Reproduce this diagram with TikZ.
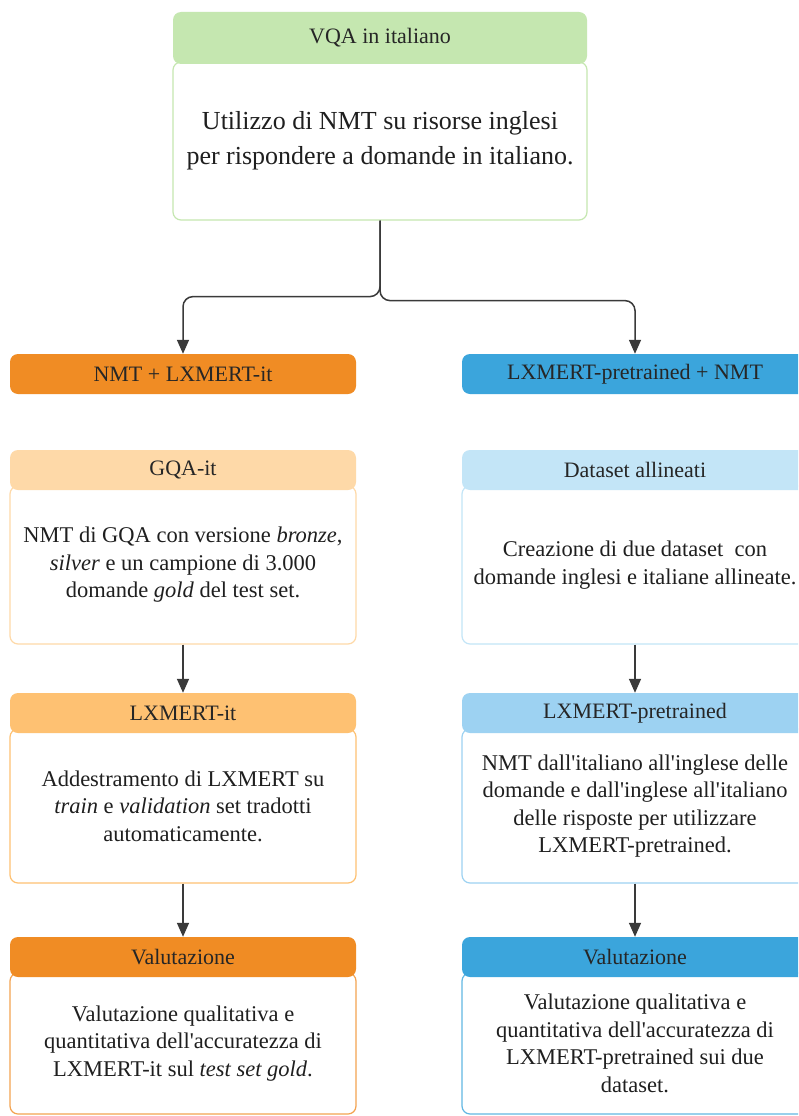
\documentclass[tikz,border=0pt]{standalone}
\usepackage{fontspec}
\setmainfont{Liberation Serif}
\newfontfamily\lsf{Liberation Serif}
\usetikzlibrary{arrows.meta}
\definecolor{grn}{HTML}{C5E7B0}
\definecolor{orD}{HTML}{F08C24}
\definecolor{orM}{HTML}{FEC172}
\definecolor{orL}{HTML}{FED9A8}
\definecolor{blD}{HTML}{3BA5DC}
\definecolor{blM}{HTML}{9DD2F2}
\definecolor{blL}{HTML}{C3E5F7}
\definecolor{arrowgray}{HTML}{3A3A3A}
\begin{document}
\begin{tikzpicture}[x=1pt,y=-1pt,
  hdr/.style={rounded corners=8pt, minimum height=40pt, minimum width=346pt, inner sep=0pt, font=\lsf\fontsize{22}{26}\selectfont, text=black!85},
  bodybox/.style={draw, fill=white, rounded corners=8pt, line width=1.2pt, inner sep=0pt, minimum width=346pt, align=center, text=black!88, font=\lsf\fontsize{22.5}{27.5}\selectfont},
  conn/.style={draw=arrowgray, line width=1.5pt, -{Triangle[width=12pt,length=14pt]}}]
\clip (0,0) rectangle (798,1116);
\fill[white] (0,0) rectangle (798,1116);
% top
\node[bodybox, draw=grn, minimum width=414pt, minimum height=158pt, font=\lsf\fontsize{26}{35}\selectfont] (topbody) at (380,141) {Utilizzo di NMT su risorse inglesi\\per rispondere a domande in italiano.};
\node[hdr, fill=grn, minimum width=414pt, minimum height=52pt] (tophead) at (380,38) {VQA in italiano};
% left column
\node[hdr, fill=orD] (lefttop) at (183,374) {NMT + LXMERT-it};
\node[bodybox, draw=orL, minimum height=158pt] (gqabody) at (183,565) {NMT di GQA con versione \textit{bronze},\\\textit{silver} e un campione di 3.000\\domande \textit{gold} del test set.};
\node[hdr, fill=orL] (gqahead) at (183,470) {GQA-it};
\node[bodybox, draw=orM, minimum height=154pt] (lxbody) at (183,806) {Addestramento di LXMERT su\\\textit{train} e \textit{validation} set tradotti\\automaticamente.};
\node[hdr, fill=orM] (lxhead) at (183,713) {LXMERT-it};
\node[bodybox, draw=orD!80, minimum height=141pt] (lvbody) at (183,1043.5) {Valutazione qualitativa e\\quantitativa dell'accuratezza di\\LXMERT-it sul \textit{test set gold}.};
\node[hdr, fill=orD] (lvhead) at (183,957) {Valutazione};
% right column
\node[hdr, fill=blD] (righttop) at (635,374) {LXMERT-pretrained + NMT};
\node[bodybox, draw=blL, minimum height=158pt] (dsbody) at (635,565) {Creazione di due dataset\ \ con\\domande inglesi e italiane allineate.};
\node[hdr, fill=blL] (dshead) at (635,470) {Dataset allineati};
\node[bodybox, draw=blM, minimum height=154pt] (lpbody) at (635,806) {NMT dall'italiano all'inglese delle\\domande e dall'inglese all'italiano\\delle risposte per utilizzare\\LXMERT-pretrained.};
\node[hdr, fill=blM] (lphead) at (635,713) {LXMERT-pretrained};
\node[bodybox, draw=blD!80, minimum height=141pt] (rvbody) at (635,1043.5) {Valutazione qualitativa e\\quantitativa dell'accuratezza di\\LXMERT-pretrained sui due\\dataset.};
\node[hdr, fill=blD] (rvhead) at (635,957) {Valutazione};
% connectors
\draw[conn, rounded corners=10pt] (topbody.south) -- ++(0,76) -| (lefttop.north);
\draw[conn, rounded corners=10pt] (topbody.south) -- ++(0,80) -| (righttop.north);
\draw[conn] (gqabody.south) -- (lxhead.north);
\draw[conn] (lxbody.south) -- (lvhead.north);
\draw[conn] (dsbody.south) -- (lphead.north);
\draw[conn] (lpbody.south) -- (rvhead.north);
\end{tikzpicture}
\end{document}
